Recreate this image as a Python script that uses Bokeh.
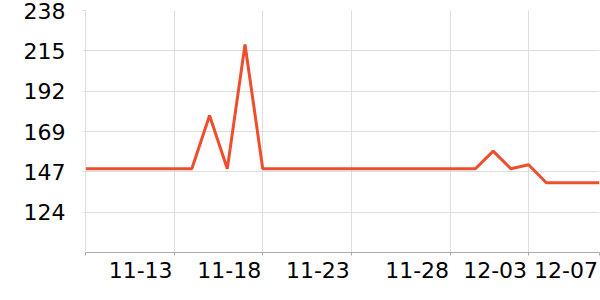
from bokeh.plotting import figure
from bokeh.models import Range1d, FixedTicker, LinearAxis, Grid
from bokeh.embed import file_html
from bokeh.resources import INLINE

# ---- data ----
dates = ["11-08", "11-09", "11-10", "11-11", "11-12", "11-13", "11-14", "11-15",
         "11-16", "11-17", "11-18", "11-19", "11-20", "11-21", "11-22", "11-23",
         "11-24", "11-25", "11-26", "11-27", "11-28", "11-29", "11-30", "12-01",
         "12-02", "12-03", "12-04", "12-05", "12-06", "12-07"]
values = [148.4, 148.4, 148.4, 148.4, 148.4, 148.4, 148.4, 178.6,
          148.4, 218.8, 148.4, 148.4, 148.4, 148.4, 148.4, 148.4,
          148.4, 148.4, 148.4, 148.4, 148.4, 148.4, 148.4, 158.4,
          148.4, 150.7, 140.5, 140.5, 140.5, 140.5]
x_tick_pos = [0, 5, 10, 15, 20.6, 25, 29]
x_tick_labels = ["", "11-13", "11-18", "11-23", "11-28", "12-03", "12-07"]
y_min, y_max = 101, 238
y_tick_labels = ["124", "147", "169", "192", "215", "238"]

idx = list(range(len(values)))
step = (y_max - y_min) / 6
y_tick_pos = [y_min + step * (k + 1) for k in range(6)]

p = figure(width=600, height=300, output_backend="svg", toolbar_location=None,
           x_range=Range1d(0, len(values) - 1), y_range=Range1d(y_min, y_max),
           min_border_left=85, min_border_right=1, min_border_top=10,
           min_border_bottom=48, x_axis_type=None, y_axis_type=None)
p.outline_line_color = None
p.background_fill_color = "white"
p.border_fill_color = "white"

# x axis: line + tick marks at real tick positions, no labels
xa = LinearAxis(ticker=FixedTicker(ticks=x_tick_pos))
xa.major_label_overrides = {t: "" for t in x_tick_pos}
xa.major_label_text_font_size = "0px"
xa.major_label_standoff = 0
xa.axis_line_color = "#aaaaaa"
xa.major_tick_line_color = "#aaaaaa"
xa.major_tick_out = 3
xa.major_tick_in = 0
xa.minor_tick_line_color = None
p.add_layout(xa, "below")

# x labels: ending at their tick (right aligned)
shift = 1.89
lab_pos = [t - shift for t, l in zip(x_tick_pos, x_tick_labels) if l]
lab_txt = [l for l in x_tick_labels if l]
xl = LinearAxis(ticker=FixedTicker(ticks=lab_pos))
xl.major_label_overrides = {t: l for t, l in zip(lab_pos, lab_txt)}
xl.major_label_text_font = "DejaVu Sans"
xl.major_label_text_font_size = "22px"
xl.major_label_text_color = "black"
xl.major_label_standoff = 6
xl.axis_line_color = None
xl.major_tick_line_color = None
xl.major_tick_out = 0
xl.major_tick_in = 0
xl.minor_tick_line_color = None
p.add_layout(xl, "below")

# y axis
ya = LinearAxis(ticker=FixedTicker(ticks=y_tick_pos))
ya.major_label_overrides = {t: l for t, l in zip(y_tick_pos, y_tick_labels)}
ya.major_label_text_font = "DejaVu Sans"
ya.major_label_text_font_size = "22px"
ya.major_label_text_color = "black"
ya.major_label_standoff = 17
ya.axis_line_color = "#dddddd"
ya.major_tick_line_color = "#dddddd"
ya.major_tick_out = 3
ya.major_tick_in = 0
ya.minor_tick_line_color = None
p.add_layout(ya, "left")

p.add_layout(Grid(dimension=0, ticker=FixedTicker(ticks=x_tick_pos), grid_line_color="#dddddd"))
p.add_layout(Grid(dimension=1, ticker=FixedTicker(ticks=y_tick_pos), grid_line_color="#dddddd"))

p.line(idx, values, line_color="#ef4e2e", line_width=3)

open("out.html", "w").write(file_html(p, INLINE))
